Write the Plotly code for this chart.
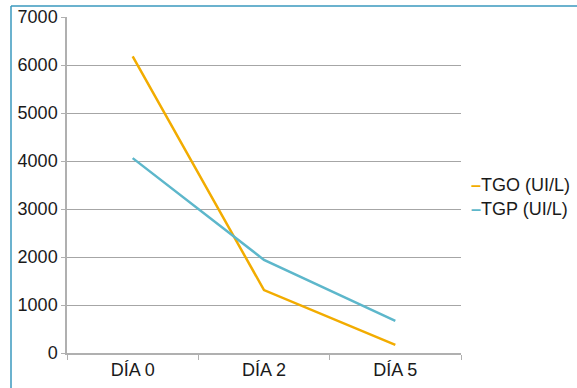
import plotly.graph_objects as go

categories = ["DÍA 0", "DÍA 2", "DÍA 5"]
tgo = [6180, 1310, 170]
tgp = [4060, 1940, 670]
series_names = ["TGO (UI/L)", "TGP (UI/L)"]
colors = ["#F2AC00", "#5DB7CB"]

W, H = 577, 388
ml, mr, mt, mb = 67, 116, 17, 35
pw, ph = W - ml - mr, H - mt - mb

fig = go.Figure()
for name, vals, col in zip(series_names, [tgo, tgp], colors):
    fig.add_trace(go.Scatter(x=categories, y=vals, mode="lines", name=name,
                             line=dict(color=col, width=2.5), showlegend=False))

font = dict(family="Liberation Sans, Arial, sans-serif", size=18, color="#1a1a1a")

fig.update_layout(
    width=W, height=H, margin=dict(l=ml, r=mr, t=mt, b=mb, autoexpand=False),
    paper_bgcolor="white", plot_bgcolor="white", font=font,
    xaxis=dict(type="category", tickson="boundaries", ticks="outside", ticklen=5,
               tickcolor="#b0b0b0", showline=True, linecolor="#b0b0b0", linewidth=1.5,
               showgrid=False, range=[-0.5, 2.5], tickfont=font, automargin=False),
    yaxis=dict(range=[0, 7000], dtick=1000, ticks="outside", ticklen=4, tickcolor="#b0b0b0",
               showline=True, linecolor="#b0b0b0", linewidth=1.5, gridcolor="#a6a6a6",
               gridwidth=1, zeroline=False, tickfont=font, automargin=False),
)

# outer frame (top and left edges visible)
bx = (11 - ml) / pw
by = 1 + (mt - 6) / ph
fig.add_shape(type="line", xref="paper", yref="paper", x0=bx, x1=bx, y0=-0.2, y1=by,
              line=dict(color="#3A98BE", width=1.5))
fig.add_shape(type="line", xref="paper", yref="paper", x0=bx, x1=1.4, y0=by, y1=by,
              line=dict(color="#3A98BE", width=1.5))

# legend as annotations
for i, (name, col) in enumerate(zip(series_names, colors)):
    yp = 1 - (185 + 24 * i - mt) / ph
    fig.add_annotation(xref="paper", yref="paper", x=(469 - ml) / pw, y=yp,
                       xanchor="left", yanchor="middle", showarrow=False,
                       text=f"<span style='color:{col}'><b>–</b></span>{name}", font=font)

fig.write_html("out.html", config={"displayModeBar": False},
               post_script="document.body.style.margin='0';")
